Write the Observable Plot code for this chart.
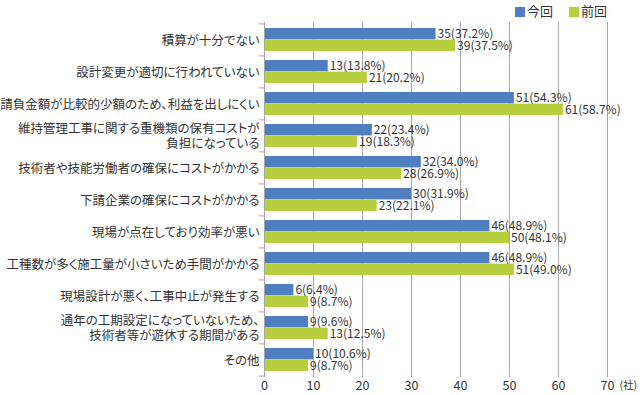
<!DOCTYPE html>
<html>
<head>
<meta charset="utf-8">
<script src="https://cdn.jsdelivr.net/npm/d3@7"></script>
<script src="https://cdn.jsdelivr.net/npm/@observablehq/plot@0.6"></script>
<style>
  body { margin: 0; background: #fff; }
  #wrap { position: relative; width: 640px; height: 395px; font-family: "Noto Sans CJK JP", sans-serif; color: #333; }
  #wrap svg text { font-feature-settings: "palt"; }
  #legend { position: absolute; top: 1px; left: 515px; font-size: 13px; display: flex; gap: 16px; align-items: center; }
  #legend span.sw { display: inline-block; width: 10px; height: 10px; margin-right: 2px; vertical-align: -1px; }
</style>
</head>
<body>
<div id="wrap"><div id="legend"></div></div>
<script>
const categories = [
  "積算が十分でない",
  "設計変更が適切に行われていない",
  "請負金額が比較的少額のため、利益を出しにくい",
  "維持管理工事に関する重機類の保有コストが\n負担になっている",
  "技術者や技能労働者の確保にコストがかかる",
  "下請企業の確保にコストがかかる",
  "現場が点在しており効率が悪い",
  "工種数が多く施工量が小さいため手間がかかる",
  "現場設計が悪く、工事中止が発生する",
  "通年の工期設定になっていないため、\n技術者等が遊休する期間がある",
  "その他"
];
const seriesNames = ["今回", "前回"];
const currentValues = [35, 13, 51, 22, 32, 30, 46, 46, 6, 9, 10];
const currentPct = ["37.2", "13.8", "54.3", "23.4", "34.0", "31.9", "48.9", "48.9", "6.4", "9.6", "10.6"];
const previousValues = [39, 21, 61, 19, 28, 23, 50, 51, 9, 13, 9];
const previousPct = ["37.5", "20.2", "58.7", "18.3", "26.9", "22.1", "48.1", "49.0", "8.7", "12.5", "8.7"];
const xTicks = [0, 10, 20, 30, 40, 50, 60, 70];
const unitLabel = "(社)";
const colors = ["#4f7fc0", "#b8cf3d"];

const W = 640, H = 395, mT = 22, mB = 18, mL = 264, mR = 33;
const pIn = 0.28;
const step = (H - mT - mB) / categories.length;
const bw = step * (1 - pIn);
const half = bw / 2;

const cur = categories.map((c, i) => ({cat: c, v: currentValues[i], label: `${currentValues[i]}(${currentPct[i]}%)`}));
const prev = categories.map((c, i) => ({cat: c, v: previousValues[i], label: `${previousValues[i]}(${previousPct[i]}%)`}));

const font = "Noto Sans CJK JP";
const gridColor = "#a6a6a6";

const chart = Plot.plot({
  width: W, height: H,
  marginTop: mT, marginBottom: mB, marginLeft: mL, marginRight: mR,
  style: {fontFamily: font, fontSize: "12px", color: "#333", background: "transparent"},
  x: {domain: [0, xTicks[xTicks.length - 1]], ticks: xTicks},
  y: {domain: categories, paddingInner: pIn, paddingOuter: pIn / 2},
  marks: [
    Plot.gridX(xTicks, {stroke: gridColor, strokeOpacity: 1}),
    Plot.barX(cur, {x: "v", y: "cat", fill: colors[0], insetBottom: half}),
    Plot.barX(prev, {x: "v", y: "cat", fill: colors[1], insetTop: half}),
    Plot.text(cur, {x: "v", y: "cat", text: "label", dy: -half / 2, dx: 1.5, textAnchor: "start", fill: "#333", fontSize: 12}),
    Plot.text(prev, {x: "v", y: "cat", text: "label", dy: half / 2, dx: 1.5, textAnchor: "start", fill: "#333", fontSize: 12}),
    Plot.ruleX([0], {stroke: gridColor}),
    Plot.ruleY(categories, {y: d => d, x1: -1, x2: 0, dy: -step / 2, stroke: gridColor}),
    Plot.ruleY(categories.slice(-1), {y: d => d, x1: -1, x2: 0, dy: step / 2, stroke: gridColor}),
    Plot.axisX({ticks: xTicks, tickSize: 0, tickPadding: 4, fontSize: 12.5, label: null, fill: "#333"}),
    Plot.axisY({tickSize: 0, tickPadding: 5, fontSize: 12.5, label: null, lineHeight: 1.2, fill: "#333"}),
    Plot.text([unitLabel], {x: () => xTicks[xTicks.length - 1], frameAnchor: "bottom", dy: 11, dx: 12, textAnchor: "start", fontSize: 10.5, fill: "#333"})
  ]
});
document.getElementById("wrap").appendChild(chart);

const legend = document.getElementById("legend");
seriesNames.forEach((s, i) => {
  const d = document.createElement("div");
  d.innerHTML = `<span class="sw" style="background:${colors[i]}"></span>${s}`;
  legend.appendChild(d);
});
</script>
</body>
</html>
